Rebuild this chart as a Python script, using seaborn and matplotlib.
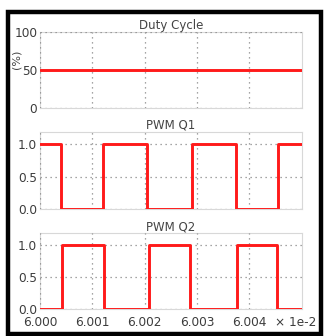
import matplotlib
matplotlib.use("Agg")
import matplotlib.pyplot as plt
from matplotlib.ticker import FormatStrFormatter
from matplotlib.patches import Rectangle
import seaborn as sns
import pandas as pd

# time in units of 1e-2 s
x_end = 6.00501
duty_t = [6.000, x_end]
duty_v = [50, 50]

q1_t = [6.000, 6.000396, 6.001210, 6.002052, 6.002912, 6.003748, 6.004556, x_end]
q1_v = [1, 0, 1, 0, 1, 0, 1, 1]

q2_t = [6.000, 6.000415, 6.001224, 6.002084, 6.002868, 6.003761, 6.004537, x_end]
q2_v = [0, 1, 0, 1, 0, 1, 0, 0]

x_ticks = [6.000, 6.001, 6.002, 6.003, 6.004]
titles = ["Duty Cycle", "PWM Q1", "PWM Q2"]

sns.set_style("white")
plt.rcParams['font.family'] = ['DejaVu Sans']

fig = plt.figure(figsize=(3.24, 3.36), dpi=100)
fig.patch.set_facecolor("white")

W, H = 324, 336
def ax_at(x0, y0, x1, y1):
    return fig.add_axes([x0 / W, 1 - y1 / H, (x1 - x0) / W, (y1 - y0) / H])

axes = [ax_at(40, 32, 302, 108), ax_at(40, 132, 302, 209), ax_at(40, 233, 302, 309)]
data = [
    pd.DataFrame({"t": duty_t, "v": duty_v}),
    pd.DataFrame({"t": q1_t, "v": q1_v}),
    pd.DataFrame({"t": q2_t, "v": q2_v}),
]
red = "#ff1a1a"
tc = "#3c3c3c"
for i, (ax, df) in enumerate(zip(axes, data)):
    sns.lineplot(data=df, x="t", y="v", ax=ax, color=red, linewidth=2.1,
                 drawstyle="steps-post", estimator=None, sort=False, zorder=3)
    ax.set_xlim(6.000, x_end)
    ax.set_xticks(x_ticks)
    ax.set_xlabel("")
    ax.set_ylabel("")
    ax.set_title(titles[i], fontsize=8.5, color="#444444", pad=2)
    if i == 0:
        ax.set_ylim(0, 100)
        ax.set_yticks([0, 50, 100])
        ax.set_ylabel("(%)", fontsize=8, color="#444444")
        ax.yaxis.set_label_coords(-0.07, 0.64)
    else:
        ax.set_ylim(0, 1.185)
        ax.set_yticks([0.0, 0.5, 1.0])
        ax.yaxis.set_major_formatter(FormatStrFormatter('%.1f'))
    ax.grid(True, color="#888888", linestyle=(0, (1, 3)), linewidth=0.9, zorder=4)
    ax.set_axisbelow(False)
    for s in ax.spines.values():
        s.set_color("#d8d8d8")
        s.set_linewidth(0.8)
    ax.tick_params(axis="both", length=0, labelsize=8.7, labelcolor=tc, pad=2)
    if i < 2:
        ax.tick_params(axis="x", labelbottom=False)
    else:
        ax.tick_params(axis="x", pad=5)
        ax.xaxis.set_major_formatter(FormatStrFormatter('%.3f'))

fig.text(296 / W, 1 - 323 / H, "× 1e-2", fontsize=8.7, color=tc, ha="center", va="center")

# black frame
fig.patches.append(Rectangle((8 / W, 1 - 334 / H), (321 - 8) / W, (334 - 12) / H,
                             transform=fig.transFigure, fill=False, edgecolor="black",
                             linewidth=3.2, zorder=10))

fig.savefig("out.png", dpi=100, facecolor="white")
